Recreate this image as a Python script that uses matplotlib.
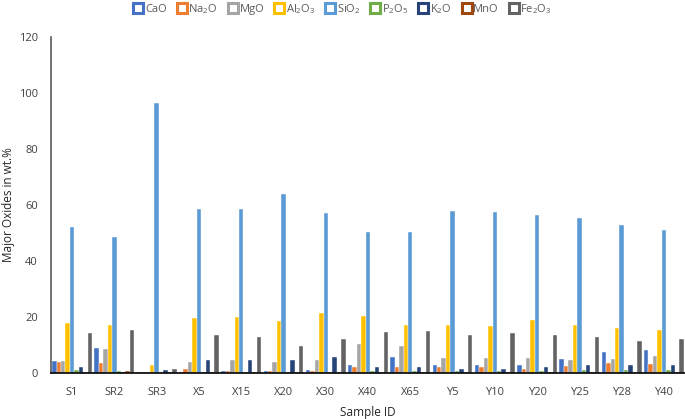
import numpy as np
import matplotlib
matplotlib.use("Agg")
import matplotlib.pyplot as plt
from matplotlib.lines import Line2D

samples = ["S1", "SR2", "SR3", "X5", "X15", "X20", "X30", "X40", "X65",
           "Y5", "Y10", "Y20", "Y25", "Y28", "Y40"]

CaO   = [4.2, 8.8, 0.3, 0.5, 0.7, 0.7, 1.2, 2.7, 5.6, 2.7, 2.7, 3.0, 4.9, 7.4, 8.2]
Na2O  = [3.9, 3.4, 0.3, 1.4, 0.7, 0.6, 0.8, 2.1, 2.2, 2.1, 2.2, 1.6, 2.4, 3.4, 3.2]
MgO   = [4.2, 8.7, 0.3, 3.9, 4.5, 4.1, 4.5, 10.4, 9.7, 5.5, 5.2, 5.2, 4.7, 5.0, 5.9]
Al2O3 = [17.8, 17.2, 3.0, 19.6, 19.9, 18.4, 21.3, 20.2, 17.3, 17.1, 16.8, 19.1, 17.1, 16.2, 15.2]
SiO2  = [52.3, 48.75, 96.6, 58.75, 58.75, 64.1, 57.2, 50.3, 50.5, 57.8, 57.4, 56.4, 55.3, 52.7, 51.2]
P2O5  = [1.0, 0.6, 0.2, 0.2, 0.2, 0.2, 0.2, 0.7, 0.7, 0.8, 0.8, 0.8, 1.0, 1.2, 1.0]
K2O   = [2.0, 0.4, 0.9, 4.7, 4.7, 4.8, 5.8, 2.1, 2.1, 1.5, 1.6, 2.0, 2.7, 2.9, 2.7]
MnO   = [0.3, 0.8, 0.3, 0.2, 0.3, 0.3, 0.3, 0.4, 0.4, 0.4, 0.4, 0.4, 0.4, 0.4, 0.4]
Fe2O3 = [14.3, 15.2, 1.5, 13.7, 12.9, 9.6, 12.1, 14.7, 14.9, 13.7, 14.3, 13.5, 13.0, 11.6, 12.3]

oxide_labels = ["CaO", "Na$_2$O", "MgO", "Al$_2$O$_3$", "SiO$_2$", "P$_2$O$_5$",
                "K$_2$O", "MnO", "Fe$_2$O$_3$"]
series = [CaO, Na2O, MgO, Al2O3, SiO2, P2O5, K2O, MnO, Fe2O3]
colors = ["#4472C4", "#ED7D31", "#A5A5A5", "#FFC000", "#5B9BD5",
          "#70AD47", "#264478", "#9E480E", "#636363"]

plt.rcParams['font.family'] = ['Open Sans', 'DejaVu Sans']
plt.rcParams['mathtext.fontset'] = 'custom'
plt.rcParams['mathtext.rm'] = 'Open Sans'
plt.rcParams['mathtext.it'] = 'Open Sans'
plt.rcParams['mathtext.default'] = 'rm'

fig = plt.figure(figsize=(6.85, 4.19), dpi=100)
ax = fig.add_axes([51/685, 1 - 373/419, (685 - 51)/685, (373 - 37)/419])

x = np.arange(len(samples))
n = len(series)
bw = 0.943 / n
for i, (vals, c) in enumerate(zip(series, colors)):
    ax.bar(x - 0.943/2 + bw*(i + 0.5), vals, width=bw, color=c,
           edgecolor='white', linewidth=0.3, zorder=2)

ax.set_xlim(-0.5, len(samples) - 0.5)
ax.set_ylim(0, 120)
ax.set_yticks(range(0, 121, 20))
ax.set_xticks(x)
ax.set_xticklabels(samples)
ax.tick_params(axis='both', length=0, labelsize=8, colors='#404040')
ax.tick_params(axis='y', pad=9.5)
ax.tick_params(axis='x', pad=10)

for s in ['top', 'right']:
    ax.spines[s].set_visible(False)
ax.spines['left'].set_color('#595959')
ax.spines['left'].set_linewidth(1.2)
ax.spines['bottom'].set_color('black')
ax.spines['bottom'].set_linewidth(1.2)
ax.spines['bottom'].set_zorder(3)

ax.set_ylabel("Major Oxides in wt.%", fontsize=8.5, color='#262626', labelpad=3)
ax.set_xlabel("Sample ID", fontsize=8.5, color='#262626', labelpad=6)

handles = [Line2D([], [], linestyle='none', marker='s', markersize=7,
                  markerfacecolor='white', markeredgecolor=c, markeredgewidth=2.2)
           for c in colors]
fig.legend(handles, oxide_labels, loc='center', bbox_to_anchor=(343/685, 1 - 9/419),
           ncol=9, frameon=False, fontsize=8, handlelength=0.8, handletextpad=0.2,
           columnspacing=0.95, labelcolor='#595959')

fig.savefig("out.png", dpi=100)
